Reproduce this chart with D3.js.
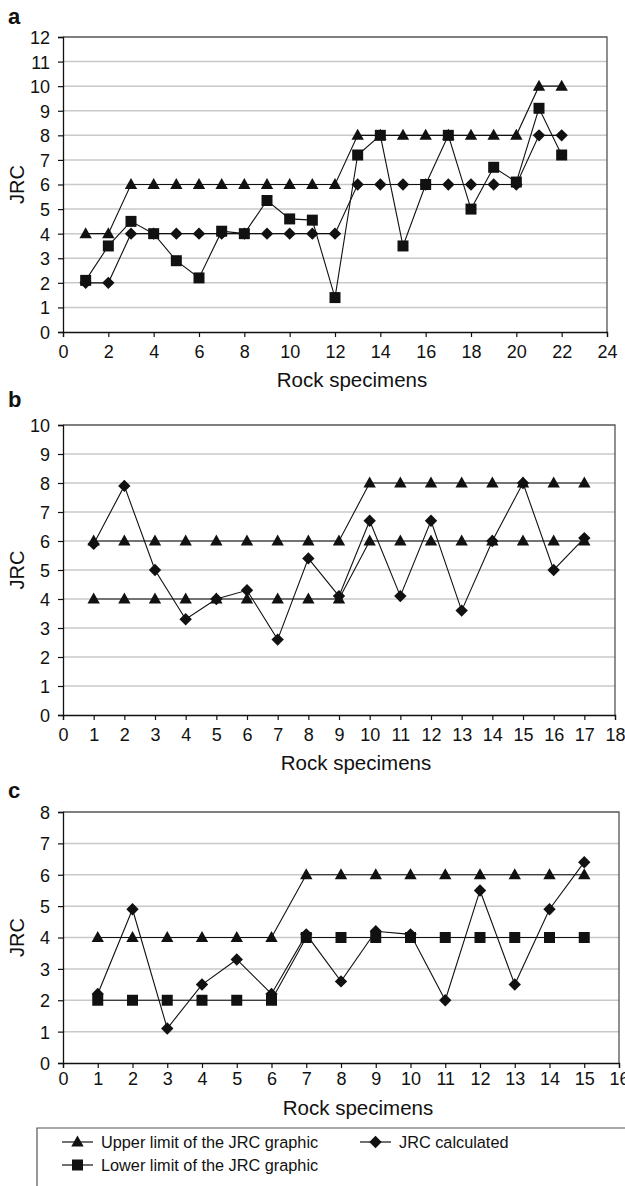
<!DOCTYPE html>
<html>
<head>
<meta charset="utf-8">
<script src="https://cdn.jsdelivr.net/npm/d3@7"></script>
<style>
  html, body { margin: 0; padding: 0; background: #fff; }
  svg { display: block; font-family: "Liberation Sans", Arial, sans-serif; }
</style>
</head>
<body>
<svg id="chart" width="625" height="1186"></svg>
<script>
// ---------- DATA ----------
// Panel a
const specimensA = [1,2,3,4,5,6,7,8,9,10,11,12,13,14,15,16,17,18,19,20,21,22];
const upperA = [4,4,6,6,6,6,6,6,6,6,6,6,8,8,8,8,8,8,8,8,10,10];
const calcA  = [2,2,4,4,4,4,4,4,4,4,4,4,6,6,6,6,6,6,6,6,8,8];
const lowerA = [2.1,3.5,4.5,4.0,2.9,2.2,4.1,4.0,5.35,4.6,4.55,1.4,7.2,8.0,3.5,6.0,8.0,5.0,6.7,6.1,9.1,7.2];
const xTicksA = [0,2,4,6,8,10,12,14,16,18,20,22,24];
const yTicksA = [0,1,2,3,4,5,6,7,8,9,10,11,12];

// Panel b
const specimensB = [1,2,3,4,5,6,7,8,9,10,11,12,13,14,15,16,17];
const upperB = [6,6,6,6,6,6,6,6,6,8,8,8,8,8,8,8,8];
const calcB  = [5.9,7.9,5.0,3.3,4.0,4.3,2.6,5.4,4.1,6.7,4.1,6.7,3.6,6.0,8.0,5.0,6.1];
const lowerB = [4,4,4,4,4,4,4,4,4,6,6,6,6,6,6,6,6];
const xTicksB = [0,1,2,3,4,5,6,7,8,9,10,11,12,13,14,15,16,17,18];
const yTicksB = [0,1,2,3,4,5,6,7,8,9,10];

// Panel c
const specimensC = [1,2,3,4,5,6,7,8,9,10,11,12,13,14,15];
const upperC = [4,4,4,4,4,4,6,6,6,6,6,6,6,6,6];
const calcC  = [2.2,4.9,1.1,2.5,3.3,2.2,4.1,2.6,4.2,4.1,2.0,5.5,2.5,4.9,6.4];
const lowerC = [2,2,2,2,2,2,4,4,4,4,4,4,4,4,4];
const xTicksC = [0,1,2,3,4,5,6,7,8,9,10,11,12,13,14,15,16];
const yTicksC = [0,1,2,3,4,5,6,7,8];

const panelLabels = ["a","b","c"];
const xAxisTitle = "Rock specimens";
const yAxisTitle = "JRC";
const legendLabels = ["Upper limit of the JRC graphic","JRC calculated","Lower limit of the JRC graphic"];

// ---------- LAYOUT ----------
const panels = [
  { label: panelLabels[0], x: specimensA, upper: upperA, calc: calcA, lower: lowerA, lowerShape: "square",
    xTicks: xTicksA, yTicks: yTicksA, left: 63, right: 607, top: 37, bottom: 332,
    labelY: 24, tickDy: 26, titleDy: 55 },
  { label: panelLabels[1], x: specimensB, upper: upperB, calc: calcB, lower: lowerB, lowerShape: "triangle",
    xTicks: xTicksB, yTicks: yTicksB, left: 63, right: 615, top: 425, bottom: 715,
    labelY: 407, tickDy: 26, titleDy: 55 },
  { label: panelLabels[2], x: specimensC, upper: upperC, calc: calcC, lower: lowerC, lowerShape: "square",
    xTicks: xTicksC, yTicks: yTicksC, left: 63, right: 619, top: 812, bottom: 1063,
    labelY: 798, tickDy: 22, titleDy: 52 }
];

const svg = d3.select("#chart");
const INK = "#111";
const GRID = "#c8c8c8";

function markerPath(shape) {
  if (shape === "triangle") return "M0,-6.5L6.2,4.5L-6.2,4.5Z";
  if (shape === "square") return "M-5.5,-5.5H5.5V5.5H-5.5Z";
  return "M0,-6.2L6.2,0L0,6.2L-6.2,0Z"; // diamond
}

panels.forEach(p => {
  const xs = d3.scaleLinear().domain([p.xTicks[0], p.xTicks[p.xTicks.length-1]]).range([p.left, p.right]);
  const ys = d3.scaleLinear().domain([p.yTicks[0], p.yTicks[p.yTicks.length-1]]).range([p.bottom, p.top]);
  const g = svg.append("g");

  // gridlines
  g.append("g").selectAll("line").data(p.yTicks.slice(1, -1)).join("line")
    .attr("x1", p.left).attr("x2", p.right)
    .attr("y1", d => ys(d)).attr("y2", d => ys(d))
    .attr("stroke", GRID).attr("stroke-width", 1.5);

  // frame (top / right)
  g.append("path")
    .attr("d", `M${p.left},${p.top}H${p.right}V${p.bottom}`)
    .attr("fill", "none").attr("stroke", "#555").attr("stroke-width", 1.3);

  // axes
  const yAxis = d3.axisLeft(ys).tickValues(p.yTicks).tickSize(5).tickPadding(8).tickFormat(d3.format("d"));
  const xAxis = d3.axisBottom(xs).tickValues(p.xTicks).tickSize(5).tickPadding(p.tickDy - 18).tickFormat(d3.format("d"));
  const ya = g.append("g").attr("transform", `translate(${p.left},0)`).call(yAxis);
  const xa = g.append("g").attr("transform", `translate(0,${p.bottom})`).call(xAxis);
  [ya, xa].forEach(a => {
    a.select(".domain").attr("stroke", INK).attr("stroke-width", 1.3);
    a.selectAll(".tick line").attr("stroke", INK).attr("stroke-width", 1.2);
    a.selectAll(".tick text").attr("fill", INK).style("font-size", "18px")
      .style("font-family", "'Liberation Sans', Arial, sans-serif");
  });
  ya.selectAll(".tick text").attr("dy", "0.36em");

  // axis titles
  g.append("text").attr("x", (p.left + p.right) / 2 + 17).attr("y", p.bottom + p.titleDy)
    .attr("text-anchor", "middle").attr("fill", INK).style("font-size", "20.5px").text(xAxisTitle);
  g.append("text")
    .attr("transform", `translate(24,${(p.top + p.bottom) / 2}) rotate(-90)`)
    .attr("text-anchor", "middle").attr("fill", INK).style("font-size", "20px").text(yAxisTitle);

  // panel label
  g.append("text").attr("x", 8).attr("y", p.labelY).attr("fill", INK)
    .style("font-size", "22px").style("font-weight", "bold").text(p.label);

  // series (draw order: upper, calculated, lower)
  const series = [
    { vals: p.upper, shape: "triangle" },
    { vals: p.calc, shape: "diamond" },
    { vals: p.lower, shape: p.lowerShape }
  ];
  const line = d3.line().x(d => xs(d[0])).y(d => ys(d[1]));
  series.forEach(s => {
    const pts = p.x.map((xv, i) => [xv, s.vals[i]]);
    g.append("path").attr("d", line(pts)).attr("fill", "none")
      .attr("stroke", INK).attr("stroke-width", 1.1);
    g.append("g").selectAll("path").data(pts).join("path")
      .attr("transform", d => `translate(${xs(d[0])},${ys(d[1])})`)
      .attr("d", markerPath(s.shape)).attr("fill", INK);
  });
});

// ---------- LEGEND ----------
const lg = svg.append("g");
lg.append("path").attr("d", "M37,1200V1128H630").attr("fill", "none")
  .attr("stroke", "#555").attr("stroke-width", 1.2);
const legendItems = [
  { label: legendLabels[0], shape: "triangle", x: 62, y: 1142 },
  { label: legendLabels[1], shape: "diamond", x: 360, y: 1142 },
  { label: legendLabels[2], shape: "square", x: 62, y: 1165 }
];
const items = lg.selectAll("g.item").data(legendItems).join("g")
  .attr("transform", d => `translate(${d.x},${d.y})`);
items.append("line").attr("x1", 0).attr("x2", 31).attr("y1", 0).attr("y2", 0)
  .attr("stroke", INK).attr("stroke-width", 1.2);
items.append("path").attr("transform", "translate(15.5,0)").attr("d", d => markerPath(d.shape)).attr("fill", INK);
items.append("text").attr("x", 39).attr("y", 0).attr("dy", "0.35em").attr("fill", INK)
  .style("font-size", "16.3px").text(d => d.label);
</script>
</body>
</html>
